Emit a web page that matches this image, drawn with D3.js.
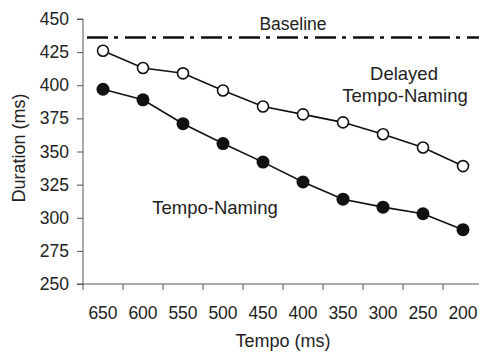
<!DOCTYPE html>
<html>
<head>
<meta charset="utf-8">
<script src="https://cdn.jsdelivr.net/npm/d3@7"></script>
<style>
  body { margin: 0; background: #fff; }
  svg { display: block; font-family: "Liberation Sans", Arial, sans-serif; }
</style>
</head>
<body>
<div id="container"></div>
<script>
const tempos = ['650', '600', '550', '500', '450', '400', '350', '300', '250', '200'];
const delayedNaming = [426, 413, 409, 396, 384, 378, 372, 363, 353, 339];
const tempoNaming = [397, 389, 371, 356, 342, 327, 314, 308, 303, 291];
const baseline = 436;
const yTicks = [250, 275, 300, 325, 350, 375, 400, 425, 450];

const margin = { top: 19, left: 83, bottom: 68, right: -4 };
const W = 479, H = 352;
const width = W - margin.left - margin.right;
const height = H - margin.top - margin.bottom;

const svg = d3.select('#container')
  .append('svg')
  .attr('width', W)
  .attr('height', H);

const g = svg.append('g')
  .attr('transform', `translate(${margin.left}, ${margin.top})`);

// Scales
const x = d3.scaleBand().domain(tempos).range([0, width]);
const y = d3.scaleLinear().domain([250, 450]).range([height, 0]);

// Y axis
const yAxis = g.append('g')
  .call(d3.axisLeft(y).tickValues(yTicks).tickSize(6).tickPadding(8));
yAxis.selectAll('text').attr('font-size', 17.5).attr('fill', '#222').attr('font-family', '"Liberation Sans", Arial, sans-serif');
yAxis.select('.domain').attr('stroke', '#555').attr('d', `M-6,${height}H0V0H-6`);
yAxis.selectAll('line').attr('stroke', '#555');

// X axis: ticks at band boundaries, labels at centers
const xAxis = g.append('g').attr('transform', `translate(0, ${height})`);
xAxis.append('line')
  .attr('x1', 0).attr('x2', width)
  .attr('stroke', '#555');
xAxis.selectAll('.tick')
  .data(tempos)
  .enter()
  .append('line')
  .attr('x1', d => x(d)).attr('x2', d => x(d))
  .attr('y1', 0).attr('y2', 6)
  .attr('stroke', '#555');
xAxis.selectAll('.lbl')
  .data(tempos)
  .enter()
  .append('text')
  .attr('x', d => x(d) + x.bandwidth() / 2)
  .attr('y', 34.5)
  .attr('text-anchor', 'middle')
  .attr('font-size', 17.5)
  .attr('fill', '#222')
  .text(d => d);

// Axis titles
svg.append('text')
  .attr('x', 283).attr('y', 347)
  .attr('text-anchor', 'middle')
  .attr('font-size', 18)
  .attr('fill', '#222')
  .text('Tempo (ms)');
svg.append('text')
  .attr('transform', 'translate(25, 148) rotate(-90)')
  .attr('text-anchor', 'middle')
  .attr('font-size', 18)
  .attr('fill', '#222')
  .text('Duration (ms)');

// Baseline
g.append('line')
  .attr('x1', 4).attr('x2', width)
  .attr('y1', y(baseline)).attr('y2', y(baseline))
  .attr('stroke', '#111')
  .attr('stroke-width', 2.5)
  .attr('stroke-dasharray', '21,6,4,7');
svg.append('text')
  .attr('x', 293).attr('y', 30)
  .attr('text-anchor', 'middle')
  .attr('font-size', 17.5)
  .attr('fill', '#222')
  .text('Baseline');

// Lines
const line = d3.line()
  .x((d, i) => x(tempos[i]) + x.bandwidth() / 2)
  .y(d => y(d));

[delayedNaming, tempoNaming].forEach(series => {
  g.append('path')
    .datum(series)
    .attr('fill', 'none')
    .attr('stroke', '#111')
    .attr('stroke-width', 1.6)
    .attr('d', line);
});

// Markers
g.selectAll('.open')
  .data(delayedNaming)
  .enter()
  .append('circle')
  .attr('cx', (d, i) => x(tempos[i]) + x.bandwidth() / 2)
  .attr('cy', d => y(d))
  .attr('r', 5.5)
  .attr('fill', '#fff')
  .attr('stroke', '#111')
  .attr('stroke-width', 1.6);

g.selectAll('.filled')
  .data(tempoNaming)
  .enter()
  .append('circle')
  .attr('cx', (d, i) => x(tempos[i]) + x.bandwidth() / 2)
  .attr('cy', d => y(d))
  .attr('r', 6.5)
  .attr('fill', '#111');

// Series labels
svg.append('text')
  .attr('x', 404).attr('y', 80)
  .attr('text-anchor', 'middle')
  .attr('font-size', 18.5)
  .attr('fill', '#222')
  .text('Delayed');
svg.append('text')
  .attr('x', 405).attr('y', 102)
  .attr('text-anchor', 'middle')
  .attr('font-size', 18.5)
  .attr('fill', '#222')
  .text('Tempo-Naming');
svg.append('text')
  .attr('x', 215).attr('y', 214)
  .attr('text-anchor', 'middle')
  .attr('font-size', 18.5)
  .attr('fill', '#222')
  .text('Tempo-Naming');
</script>
</body>
</html>
